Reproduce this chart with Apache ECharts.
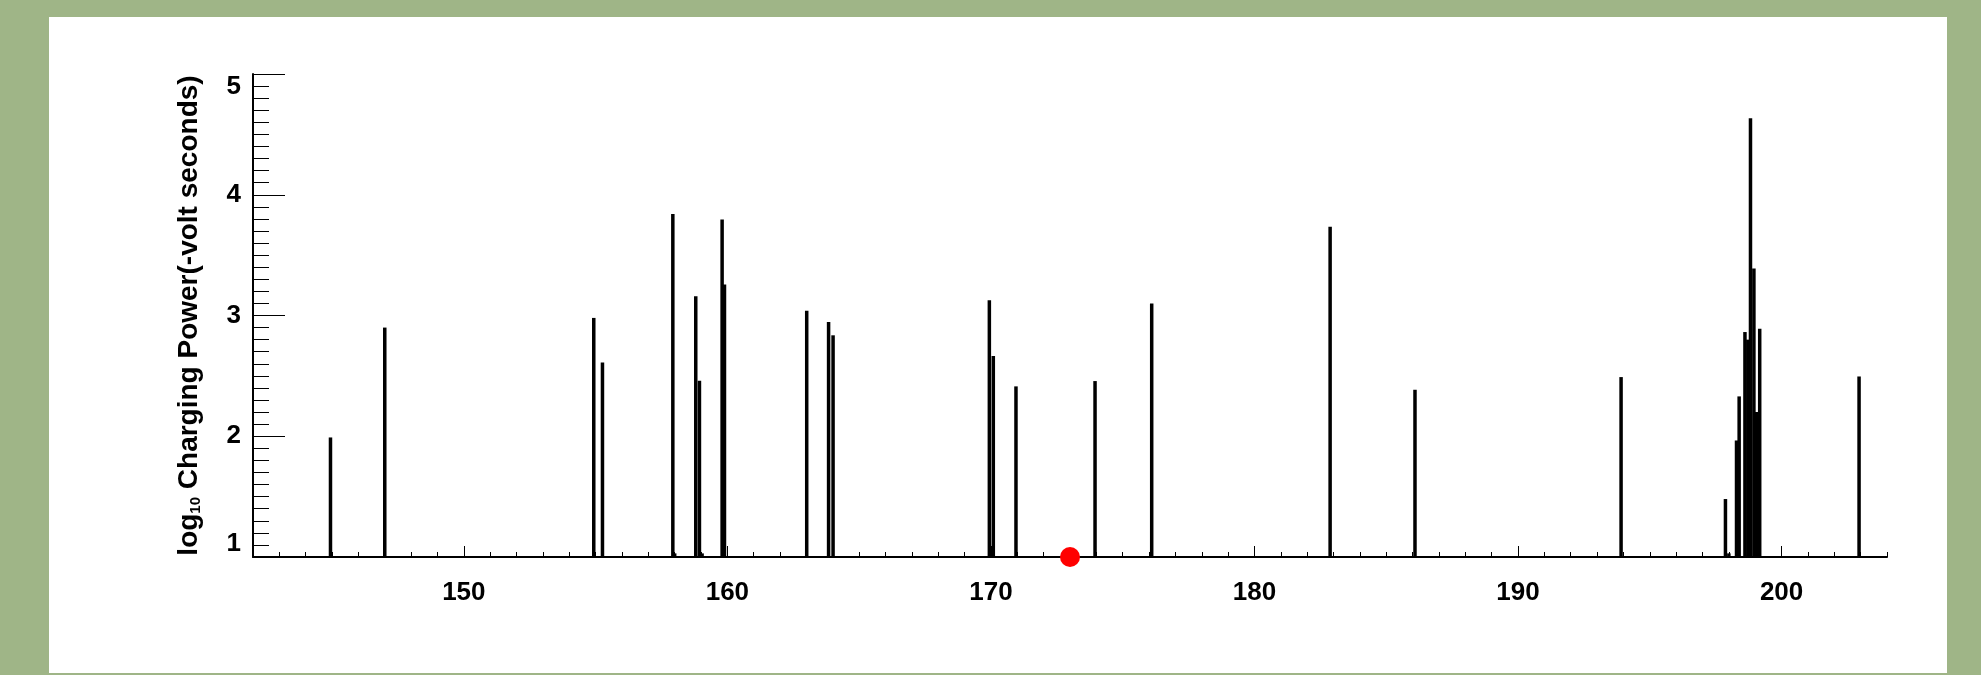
<!DOCTYPE html>
<html>
<head>
<meta charset="utf-8">
<script src="https://cdn.jsdelivr.net/npm/echarts@6/dist/echarts.min.js"></script>
<style>
  html, body { margin: 0; padding: 0; width: 1981px; height: 675px; background: #9fb587; overflow: hidden; }
  #chart { position: absolute; left: 49px; top: 17px; width: 1898px; height: 656px; background: #ffffff; }
</style>
</head>
<body>
<div id="chart"></div>
<script>
// Event times (x) and log10 charging power (y)
const spikeX = [144.94, 147.0, 154.93, 155.26, 157.93, 158.0, 158.80, 158.94, 159.04, 159.80, 159.89,
                163.01, 163.84, 164.01, 169.94, 170.09, 170.95, 173.95, 176.10, 182.87, 186.09,
                193.91, 197.87, 198.0, 198.29, 198.39, 198.61, 198.72, 198.82, 198.95, 199.05, 199.17, 202.94];
const spikeY = [1.99, 2.90, 2.98, 2.61, 3.84, 1.03, 3.16, 2.46, 1.03, 3.795, 3.256,
                3.04, 2.946, 2.836, 3.126, 2.664, 2.413, 2.457, 3.10, 3.734, 2.385,
                2.49, 1.48, 1.03, 1.965, 2.33, 2.863, 2.80, 4.633, 3.39, 2.20, 2.89, 2.495];
const markerX = [173.0];
const markerY = [1.0];
const xMajorTicks = [150, 160, 170, 180, 190, 200];
const yTicks = [1, 2, 3, 4, 5];
const yAxisTitle = ['log', '10', ' Charging Power(-volt seconds)'];

const xMin = 142, xMax = 204, yMin = 1, yMax = 5;
const FONT = '"Liberation Sans", Arial, Helvetica, sans-serif';

const spikeData = spikeX.map((x, i) => [x, spikeY[i]]);
const markerData = markerX.map((x, i) => [x, markerY[i]]);

const chart = echarts.init(document.getElementById('chart'), null, { renderer: 'canvas' });
chart.setOption({
  animation: false,
  backgroundColor: '#ffffff',
  grid: { left: 204, right: 60, top: 57, bottom: 116, containLabel: false },
  xAxis: [
    {
      type: 'value', min: xMin, max: xMax, interval: 1, position: 'bottom',
      axisLine: { show: true, onZero: false, lineStyle: { color: '#000', width: 2 } },
      axisTick: { show: true, inside: true, length: 5, lineStyle: { color: '#000', width: 1 } },
      axisLabel: { show: false },
      splitLine: { show: false }
    },
    {
      type: 'value', min: xMin, max: xMax, position: 'bottom', offset: 0,
      axisLine: { show: false, onZero: false },
      axisTick: { show: true, inside: true, length: 11, customValues: xMajorTicks, lineStyle: { color: '#000', width: 1 } },
      axisLabel: { show: true, customValues: xMajorTicks, margin: 23, color: '#000',
                   fontFamily: FONT, fontWeight: 'bold', fontSize: 26 },
      splitLine: { show: false }
    }
  ],
  yAxis: {
    type: 'value', min: yMin, max: yMax, interval: 1,
    axisLine: { show: true, onZero: false, lineStyle: { color: '#000', width: 2 } },
    axisTick: { show: true, inside: true, length: 32, customValues: yTicks, lineStyle: { color: '#000', width: 1 } },
    minorTick: { show: true, splitNumber: 10, length: 16, lineStyle: { color: '#000', width: 1 } },
    axisLabel: { show: true, customValues: yTicks, margin: 12, color: '#000', fontFamily: FONT, fontWeight: 'bold', fontSize: 26,
                 verticalAlignMaxLabel: 'top', verticalAlignMinLabel: 'bottom' },
    splitLine: { show: false },
    name: '{a|' + yAxisTitle[0] + '}{s|' + yAxisTitle[1] + '}{a|' + yAxisTitle[2] + '}',
    nameLocation: 'middle', nameRotate: 90, nameGap: 50,
    nameTextStyle: {
      color: '#000', fontFamily: FONT, fontWeight: 'bold', fontSize: 28,
      rich: {
        a: { color: '#000', fontFamily: FONT, fontWeight: 'bold', fontSize: 28 },
        s: { color: '#000', fontFamily: FONT, fontWeight: 'bold', fontSize: 15, verticalAlign: 'bottom', padding: [10, 0, 0, 0] }
      }
    }
  },
  series: [
    {
      type: 'custom', xAxisIndex: 0, yAxisIndex: 0,
      data: spikeData, encode: { x: 0, y: 1 }, clip: true,
      renderItem: function (params, api) {
        const p0 = api.coord([api.value(0), yMin]);
        const p1 = api.coord([api.value(0), api.value(1)]);
        return {
          type: 'line',
          shape: { x1: p0[0], y1: p0[1], x2: p1[0], y2: p1[1] },
          style: { stroke: '#000', lineWidth: 3.5 }
        };
      },
      z: 3
    },
    {
      type: 'scatter', xAxisIndex: 0, yAxisIndex: 0,
      data: markerData, symbol: 'circle', symbolSize: 20, clip: false,
      itemStyle: { color: '#ff0000', opacity: 1 }, z: 5
    }
  ]
});
</script>
</body>
</html>
